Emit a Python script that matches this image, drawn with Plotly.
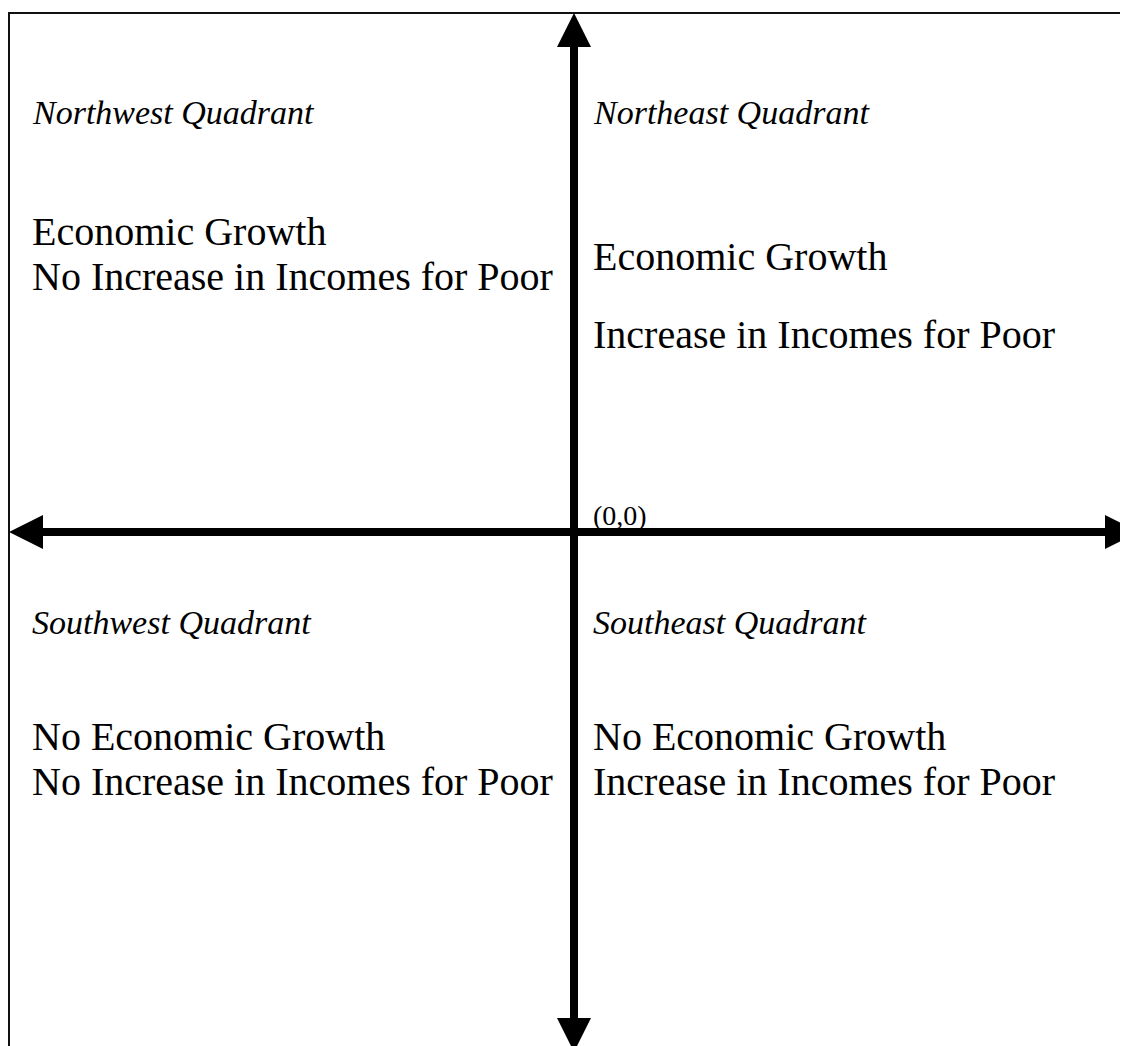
"""Four-quadrant diagram: economic growth vs. incomes for the poor."""
import plotly.graph_objects as go

# ── Content ────────────────────────────────────────────────────────────────
QUADRANT_TITLES = ["Northwest Quadrant", "Northeast Quadrant",
                   "Southwest Quadrant", "Southeast Quadrant"]
GROWTH_LINES = ["Economic Growth", "Economic Growth",
                "No Economic Growth", "No Economic Growth"]
INCOME_LINES = ["No Increase in Incomes for Poor", "Increase in Incomes for Poor",
                "No Increase in Incomes for Poor", "Increase in Incomes for Poor"]
ORIGIN_LABEL = "(0,0)"

W, H = 1128, 1046
PAGE_MARGIN = 8  # default <body> margin of the written html page
FONT = "Liberation Serif, Times New Roman, serif"
BLACK = "#000000"

# Canvas in page-pixel units (y grows downward). Origin of the plane:
OX, OY = 574, 532
SHAFT_W = 8
HEAD_LEN, HEAD_HALF = 34, 17

fig = go.Figure()

# ── Frame (right/bottom edges run off the page) ────────────────────────────
fig.add_shape(type="rect", x0=9, y0=13, x1=W + 20, y1=H + 20,
              line=dict(color="#111111", width=2), layer="below")

# ── Axes with arrowheads ───────────────────────────────────────────────────
top, bottom = 13, 1052
left, right = 9, 1139
fig.add_shape(type="line", x0=OX, x1=OX, y0=top + HEAD_LEN - 2, y1=bottom - HEAD_LEN + 2,
              line=dict(color=BLACK, width=SHAFT_W))
fig.add_shape(type="line", y0=OY, y1=OY, x0=left + HEAD_LEN - 2, x1=right - HEAD_LEN + 2,
              line=dict(color=BLACK, width=SHAFT_W))


def tri(tip, base_a, base_b):
    return (f"M {tip[0]},{tip[1]} L {base_a[0]},{base_a[1]} "
            f"L {base_b[0]},{base_b[1]} Z")


heads = [
    tri((OX, top), (OX - HEAD_HALF, top + HEAD_LEN), (OX + HEAD_HALF, top + HEAD_LEN)),
    tri((OX, bottom), (OX - HEAD_HALF, bottom - HEAD_LEN), (OX + HEAD_HALF, bottom - HEAD_LEN)),
    tri((left, OY), (left + HEAD_LEN, OY - HEAD_HALF), (left + HEAD_LEN, OY + HEAD_HALF)),
    tri((right, OY), (right - HEAD_LEN, OY - HEAD_HALF), (right - HEAD_LEN, OY + HEAD_HALF)),
]
for p in heads:
    fig.add_shape(type="path", path=p, fillcolor=BLACK, line=dict(color=BLACK, width=0))

# ── Text ───────────────────────────────────────────────────────────────────
TITLE_SIZE, BODY_SIZE, ORIGIN_SIZE = 34, 40, 28
col_x = [32, 593, 32, 593]
# baselines: (title, growth line, income line) for each quadrant
baselines = [
    (124, 245, 290),
    (124, 270, 348),
    (634, 750, 795),
    (634, 750, 795),
]


def centre(baseline, size):
    # Liberation Serif: ascent .891, descent .216 -> box centre above baseline
    return baseline - 0.3375 * size


for i in range(4):
    bt, bg, bi = baselines[i]
    for txt, b, size in ((f"<i>{QUADRANT_TITLES[i]}</i>", bt, TITLE_SIZE),
                         (GROWTH_LINES[i], bg, BODY_SIZE),
                         (INCOME_LINES[i], bi, BODY_SIZE)):
        fig.add_annotation(x=col_x[i], y=centre(b, size), text=txt,
                           xanchor="left", yanchor="middle", showarrow=False,
                           borderpad=0, borderwidth=0,
                           font=dict(family=FONT, size=size, color=BLACK))

fig.add_annotation(x=593, y=centre(525, ORIGIN_SIZE), text=ORIGIN_LABEL,
                   xanchor="left", yanchor="middle", showarrow=False,
                   borderpad=0, borderwidth=0,
                   font=dict(family=FONT, size=ORIGIN_SIZE, color=BLACK))

# figure sits PAGE_MARGIN px in from the page corner; shift ranges to match
fig.update_xaxes(range=[PAGE_MARGIN, W], visible=False, fixedrange=True)
fig.update_yaxes(range=[H, PAGE_MARGIN], visible=False, fixedrange=True)
fig.update_layout(
    width=W - PAGE_MARGIN, height=H - PAGE_MARGIN,
    margin=dict(l=0, r=0, t=0, b=0),
    plot_bgcolor="white", paper_bgcolor="white",
    showlegend=False,
)

fig.write_html("out.html")
